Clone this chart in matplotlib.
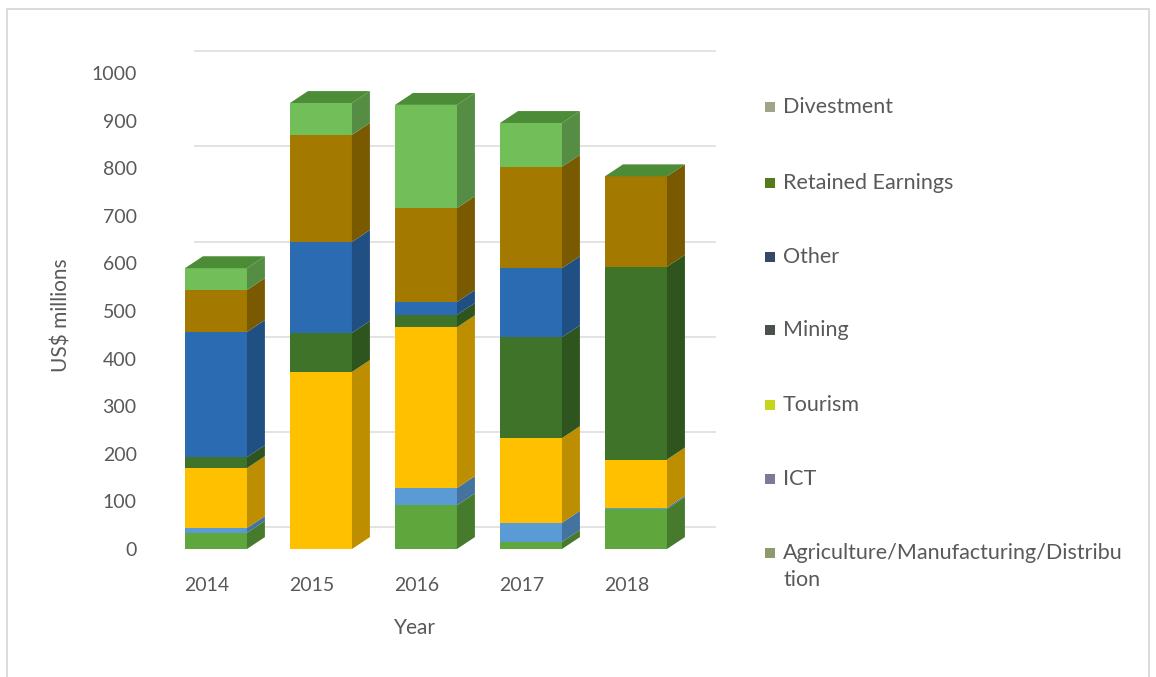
import matplotlib.pyplot as plt
import matplotlib.colors as mcolors
from matplotlib.patches import Polygon, Rectangle

# data (US$ millions)
years = ["2014", "2015", "2016", "2017", "2018"]
agri = [34, 0, 92, 15, 84]
ict = [10, 0, 36, 40, 3]
tourism = [126, 372, 338, 178, 101]
mining = [23, 82, 26, 212, 405]
other = [263, 191, 27, 145, 0]
retained = [88, 225, 197, 213, 190]
divestment = [46, 67, 217, 92, 0]

series = [agri, ict, tourism, mining, other, retained, divestment]
labels = ["Agriculture/Manufacturing/Distribu\ntion", "ICT", "Tourism", "Mining",
          "Other", "Retained Earnings", "Divestment"]
bar_colors = ["#5fa63d", "#5b9bd5", "#ffc000", "#3f732a", "#2b6bb2", "#a47900", "#72bf5a"]
legend_colors = ["#8c9a6c", "#7b7b99", "#c5d61c", "#4b514b", "#37476a", "#557a1c", "#a0a488"]

plt.rcParams['font.family'] = ['Lato', 'DejaVu Sans']
txt = "#595959"

W, H = 1156, 677
fig = plt.figure(figsize=(W / 100, H / 100), dpi=100)
ax = fig.add_axes([145 / W, 128 / H, 575 / W, 523.6 / H])
ax.set_xlim(-0.676, 4.8)
ax.set_ylim(0, 1100)

def shade(c, f):
    r, g, b = mcolors.to_rgb(c)
    return (r * f, g * f, b * f)

w = 0.59      # front face width
dx = 0.171    # depth offset (x)
dy = 25       # depth offset (y)

# back wall gridlines
for v in range(0, 1001, 200):
    ax.plot([-0.2, 4.75], [v + 46, v + 46], color="#e3e3e3", lw=1.4, zorder=0)

x = list(range(len(years)))
bottom = [0] * len(years)
for vals, col in zip(series, bar_colors):
    ax.bar(x, vals, width=w, bottom=bottom, color=col, edgecolor="none", zorder=3)
    for j in x:
        if vals[j] == 0:
            continue
        xr = x[j] + w / 2
        b = bottom[j]
        side = [(xr, b), (xr + dx, b + dy), (xr + dx, b + vals[j] + dy), (xr, b + vals[j])]
        ax.add_patch(Polygon(side, closed=True, color=shade(col, 0.74), lw=0, zorder=3))
    bottom = [b + v for b, v in zip(bottom, vals)]

for j in x:
    xl, xr, t = x[j] - w / 2, x[j] + w / 2, bottom[j]
    top = [(xl, t), (xr, t), (xr + dx, t + dy), (xl + dx, t + dy)]
    ax.add_patch(Polygon(top, closed=True, color="#4c8c36", lw=0, zorder=4))

for s in ax.spines.values():
    s.set_visible(False)
ax.set_yticks(range(0, 1001, 100))
ax.set_xticks([i - 0.09 for i in x])
ax.set_xticklabels(years)
ax.tick_params(axis="both", length=0, labelsize=14, labelcolor=txt)
ax.tick_params(axis="y", pad=6)
ax.tick_params(axis="x", pad=20)

fig.text(415 / W, 1 - 628 / H, "Year", ha="center", va="center", fontsize=15, color=txt)
fig.text(62 / W, 1 - 315 / H, "US$ millions", ha="center", va="center", rotation=90,
         fontsize=15, color=txt)

# legend, drawn by hand (top entry first)
rows = [107, 183, 257, 330, 405, 479, 553]
for ypix, lab, col in zip(rows, labels[::-1], legend_colors[::-1]):
    fig.patches.append(Rectangle((765 / W, 1 - (ypix + 5) / H), 10 / W, 10 / H,
                                 transform=fig.transFigure, color=col, lw=0))
    fig.text(783 / W, 1 - (ypix - 10) / H, lab, ha="left", va="top", fontsize=15.5,
             color=txt, linespacing=1.42)

# chart border
fig.patches.append(Rectangle((7 / W, -0.01), 1142 / W, 1 - 9 / H + 0.01,
                             transform=fig.transFigure, fill=False,
                             edgecolor="#d4d4d4", lw=1.2))

fig.savefig("out.png", dpi=100)
